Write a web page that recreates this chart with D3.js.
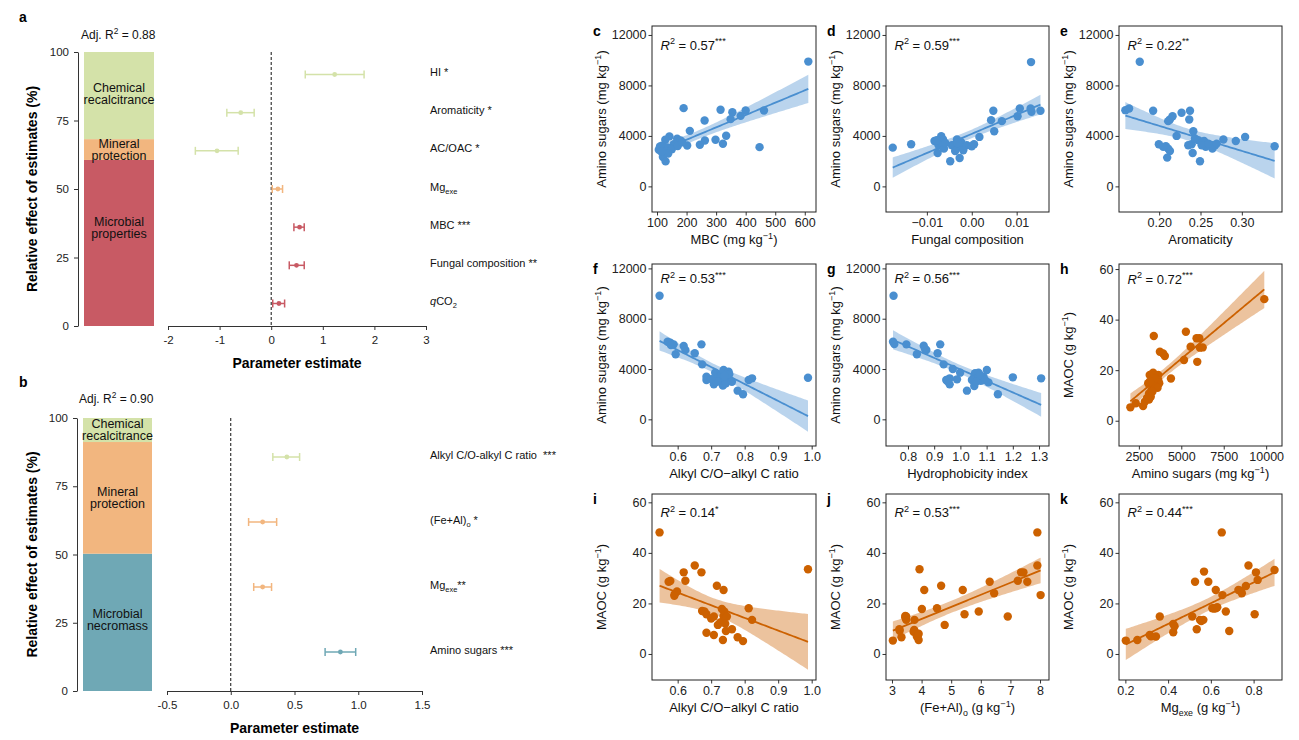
<!DOCTYPE html>
<meta charset="utf-8">
<style>
    body { margin: 0; background: #fff; }
    svg { display: block; font-family: "Liberation Sans", Arial, Helvetica, sans-serif; }
    .pre { white-space: pre; }
</style>
<body>
<svg width="1299" height="740"></svg>
<script src="https://d3js.org/d3.v7.min.js"></script>
<script>
// ---------- panel a : amino sugars model ----------
const aFactors = ["HI *", "Aromaticity *", "AC/OAC *", "Mg_{exe}", "MBC ***", "Fungal composition **", "~{q}CO_{2}"];
const aFactorGroup = [0, 0, 0, 1, 2, 2, 2];
const aEstimate = [1.23, -0.59, -1.05, 0.13, 0.55, 0.49, 0.15];
const aLower = [0.66, -0.86, -1.47, 0.02, 0.44, 0.35, 0.03];
const aUpper = [1.80, -0.33, -0.64, 0.22, 0.64, 0.64, 0.26];
const aGroups = ["Chemical recalcitrance", "Mineral protection", "Microbial properties"];
const aShare = [31.8, 7.6, 60.6];
const aTicks = [-2, -1, 0, 1, 2, 3];

// ---------- panel b : MAOC model ----------
const bFactors = ["Alkyl C/O-alkyl C ratio  ***", "(Fe+Al)_{o} *", "Mg_{exe}**", "Amino sugars ***"];
const bFactorGroup = [0, 1, 1, 2];
const bEstimate = [0.44, 0.25, 0.25, 0.86];
const bLower = [0.33, 0.14, 0.18, 0.74];
const bUpper = [0.54, 0.36, 0.32, 0.98];
const bGroups = ["Chemical recalcitrance", "Mineral protection", "Microbial necromass"];
const bShare = [8.8, 40.9, 50.3];
const bTicks = [-0.5, 0, 0.5, 1, 1.5];

// ---------- scatter panels c-k ([x, y]) ----------
const mbcAmino = [[612,9890],[190,6200],[315,6070],[355,5880],[400,6010],[462,6010],[349,5330],[383,5590],[261,5220],[211,4400],[142,3960],[168,3770],[180,3640],[128,3690],[334,4010],[298,3690],[262,3640],[245,3300],[323,3380],[202,3240],[157,3350],[143,3030],[117,3220],[106,2900],[125,2770],[134,3090],[120,2320],[129,1980],[447,3110],[110,3160],[150,2950],[170,3200],[185,3500],[138,2600],[115,2750]];
const fungalAmino = [[-0.0176,3070],[-0.0135,3340],[-0.0083,3600],[-0.0068,3970],[-0.0064,3710],[-0.0074,3260],[-0.0076,2650],[-0.0048,1990],[-0.0062,2990],[-0.0033,3710],[-0.0030,3130],[-0.0027,2250],[-0.0024,3520],[-0.0022,3050],[-0.0011,3260],[0.0000,3180],[0.0005,3340],[0.0017,3920],[0.0043,5250],[0.0048,5990],[0.0050,4370],[0.0067,5170],[0.0102,5560],[0.0107,6170],[0.0133,5910],[0.0131,6170],[0.0153,5990],[0.0132,9850],[-0.0070,3520],[-0.0059,3440],[-0.0044,3260],[-0.0037,2810],[-0.0032,3440],[-0.0019,2860],[-0.0078,3660]];
const aromAmino = [[0.1765,9880],[0.1591,6040],[0.1636,6170],[0.1927,5990],[0.2271,5830],[0.2373,5990],[0.2162,5560],[0.2130,5300],[0.2109,5170],[0.2364,5300],[0.2413,4370],[0.2211,4000],[0.1996,3340],[0.2081,3180],[0.2109,2990],[0.2130,2810],[0.2097,2280],[0.2393,3340],[0.2405,2650],[0.2494,1990],[0.2474,3660],[0.2543,3600],[0.2563,3130],[0.2644,2990],[0.2676,3260],[0.2777,3710],[0.2927,3600],[0.3040,3920],[0.3397,3180],[0.2433,3790],[0.2514,3260],[0.2595,3390],[0.2049,3130],[0.2352,3260],[0.2696,3390]];
const alkylAmino = [[0.546,9830],[0.570,6170],[0.578,6100],[0.588,5960],[0.594,5170],[0.618,5830],[0.623,5510],[0.651,5250],[0.671,5960],[0.673,4370],[0.686,3390],[0.686,3130],[0.708,2780],[0.712,3710],[0.720,3310],[0.727,3130],[0.727,3520],[0.732,3600],[0.737,3920],[0.735,2680],[0.742,3130],[0.744,2860],[0.747,3390],[0.752,3790],[0.754,3580],[0.762,2990],[0.717,2990],[0.779,2280],[0.795,1990],[0.812,3130],[0.822,3260],[0.989,3310],[0.580,5900],[0.700,3200],[0.740,3450]];
const hiAmino = [[0.745,9830],[0.743,6170],[0.748,5990],[0.794,5960],[0.860,5850],[0.834,5170],[0.870,5510],[0.913,5250],[0.923,5960],[0.936,4370],[0.971,4000],[0.999,3710],[0.946,3130],[0.959,3260],[0.959,2780],[0.987,3180],[1.025,2280],[1.053,3390],[1.053,2650],[1.056,3660],[1.069,3710],[1.078,3070],[1.088,3390],[1.101,3920],[1.107,2940],[1.143,1990],[1.200,3340],[1.308,3260],[1.063,3260],[1.044,3130],[1.075,3520],[1.094,3130],[0.865,5600],[1.060,3000],[0.950,3050]];
const aminoMaoc = [[2000,5.3],[2320,6.9],[2750,5.8],[2850,7.5],[3100,8.4],[3200,9.5],[3140,18.1],[3340,19.0],[3380,33.5],[3640,18.1],[3640,16.1],[3700,14.8],[3540,13.4],[3240,12.1],[3100,10.8],[3340,14.1],[3740,27.3],[4030,25.6],[3930,26.6],[4390,16.7],[5270,35.2],[5160,24.0],[5550,29.3],[5900,32.6],[6060,32.6],[5940,23.3],[6100,28.9],[6260,29.0],[9890,48.1],[3050,14.8],[3440,16.7],[2980,9.0],[3600,13.0],[3300,11.5],[3150,15.5]];
const alkylMaoc = [[0.546,48.1],[0.573,28.6],[0.578,28.9],[0.591,23.6],[0.598,24.7],[0.618,32.3],[0.623,29.0],[0.651,35.0],[0.671,32.3],[0.673,17.0],[0.686,15.7],[0.686,8.4],[0.708,7.5],[0.708,14.8],[0.717,27.0],[0.720,11.5],[0.732,17.8],[0.737,25.3],[0.735,5.5],[0.737,15.0],[0.737,13.5],[0.744,9.1],[0.762,9.8],[0.779,6.6],[0.795,5.1],[0.812,18.1],[0.822,13.5],[0.989,33.5],[0.680,16.8],[0.739,16.8],[0.747,14.8],[0.727,12.5],[0.700,14.0],[0.590,23.0],[0.742,12.0]];
const feAlMaoc = [[3.03,5.3],[3.25,9.8],[3.32,6.6],[3.45,14.4],[3.48,13.5],[3.76,13.5],[3.73,8.8],[3.82,8.2],[3.88,7.5],[3.90,5.5],[3.93,33.5],[4.01,17.8],[4.09,25.3],[4.52,18.1],[4.66,27.0],[4.78,11.5],[5.39,25.3],[5.45,15.7],[5.93,16.8],[6.30,28.6],[6.45,24.0],[6.91,14.8],[7.25,29.0],[7.36,32.3],[7.44,32.3],[7.57,28.6],[7.91,48.1],[7.91,35.0],[8.02,23.3],[3.48,14.8],[3.84,6.9],[3.26,9.2],[3.75,9.5],[3.45,15.0],[3.90,8.0]];
const mgMaoc = [[0.202,5.3],[0.256,5.5],[0.314,7.5],[0.343,6.9],[0.361,14.8],[0.424,11.9],[0.424,8.6],[0.513,14.8],[0.526,28.6],[0.534,9.8],[0.549,13.5],[0.565,13.5],[0.568,32.6],[0.588,28.6],[0.607,18.1],[0.623,18.1],[0.623,25.3],[0.651,48.1],[0.654,23.3],[0.670,16.8],[0.686,9.1],[0.729,25.3],[0.745,24.0],[0.764,26.9],[0.776,35.0],[0.811,32.3],[0.805,15.7],[0.819,29.3],[0.898,33.2],[0.615,18.0],[0.430,11.0],[0.555,13.0],[0.740,25.0],[0.320,7.0],[0.630,18.5]];

const r2Labels = ["0.57^{***}", "0.59^{***}", "0.22^{**}", "0.53^{***}", "0.56^{***}", "0.72^{***}", "0.14^{*}", "0.53^{***}", "0.44^{***}"];

const groupColors = ["#d4e2a9", "#f2b67f", "#c85a64"];
const groupColorsB = ["#d4e2a9", "#f2b67f", "#6fa8b5"];
const blue = "#4a8fd0", orange = "#cc6100";

const svg = d3.select("svg");

// text with _{sub}, ^{sup} and ~{italic} pieces
function rich(sel, str, fs) {
    let off = 0;
    str.split(/([_^~]\{[^}]*\})/).filter(s => s).forEach(p => {
        const m = p.match(/^([_^~])\{(.*)\}$/);
        const kind = m ? m[1] : "";
        const ts = sel.append("tspan").text(m ? m[2] : p);
        let target = 0;
        if (kind === "_") { target = fs * 0.3; ts.attr("font-size", fs * 0.68); }
        if (kind === "^") { target = -fs * 0.4; ts.attr("font-size", fs * 0.7); }
        if (kind === "~") ts.attr("font-style", "italic");
        if (target !== off) { ts.attr("dy", target - off); off = target; }
    });
    return sel;
}

function styleAxis(sel, fs) {
    sel.attr("font-family", null).attr("font-size", fs);
    sel.selectAll("path.domain, line").attr("stroke", "#333");
    sel.selectAll("text").attr("fill", "#222");
}

const hyphen = f => d => f(d).replace("\u2212", "-");

function drawForest(c) {
    const g = svg.append("g");
    const pct = d3.scaleLinear().domain([0, 100]).range(c.pctRange);
    g.append("g").attr("transform", `translate(${c.axisX},0)`)
        .call(d3.axisLeft(pct).tickValues([0, 25, 50, 75, 100]).tickSize(4).tickPadding(5).tickSizeOuter(0))
        .call(styleAxis, 11.5);

    // stacked relative effects, first group on top
    let acc = 0;
    const segs = c.groups.map((name, i) => ({ name, i, share: c.shares[i] })).reverse()
        .map(s => { const d = { ...s, y0: acc, y1: acc + s.share }; acc += s.share; return d; });
    g.selectAll("rect.seg").data(segs).join("rect")
        .attr("x", c.bar[0]).attr("width", c.bar[1] - c.bar[0])
        .attr("y", d => pct(d.y1)).attr("height", d => pct(d.y0) - pct(d.y1))
        .attr("fill", d => c.colors[d.i]);
    segs.forEach(d => {
        const t = g.append("text").attr("text-anchor", "middle").attr("font-size", 12.5).attr("fill", "#111");
        const cy = pct(c.labelPct[d.i]);
        d.name.split(" ").forEach((w, k) => t.append("tspan").attr("x", (c.bar[0] + c.bar[1]) / 2)
            .attr("y", cy + 4 + (k - 0.5) * 12).text(w));
    });

    const x = d3.scaleLinear().domain(c.xDomain).range(c.xRange);
    g.append("g").attr("transform", `translate(0,${c.pctRange[0]})`)
        .call(d3.axisBottom(x).tickValues(c.xTicks).tickFormat(c.xFormat).tickSize(4).tickPadding(6).tickSizeOuter(0))
        .call(styleAxis, 11.5);
    g.append("line").attr("x1", x(0)).attr("x2", x(0)).attr("y1", c.pctRange[1]).attr("y2", c.pctRange[0])
        .attr("stroke", "#111").attr("stroke-dasharray", "3,2");

    const row = d3.scalePoint().domain(c.factors).range([c.pctRange[1], c.pctRange[0]]).padding(c.rowPad);
    c.factors.forEach((f, i) => {
        const y = row(f), col = c.colors[c.factorGroup[i]];
        const e = g.append("g").attr("stroke", col).attr("stroke-width", 1.5);
        e.append("line").attr("x1", x(c.lower[i])).attr("x2", x(c.upper[i])).attr("y1", y).attr("y2", y);
        [c.lower[i], c.upper[i]].forEach(v => e.append("line").attr("x1", x(v)).attr("x2", x(v)).attr("y1", y - 4).attr("y2", y + 4));
        g.append("circle").attr("cx", x(c.estimate[i])).attr("cy", y).attr("r", 2.4).attr("fill", col);
        rich(g.append("text").attr("class", "pre").attr("x", c.labelX).attr("y", y + 1.5).attr("font-size", 11).attr("fill", "#111"), f, 11);
    });

    g.append("text").attr("x", c.letterPos[0]).attr("y", c.letterPos[1]).attr("font-size", 14).attr("font-weight", "bold").text(c.letter);
    rich(g.append("text").attr("x", c.adjPos[0]).attr("y", c.adjPos[1]).attr("font-size", 12).attr("fill", "#111"), c.adj, 12);
    g.append("text").attr("transform", `translate(${c.yTitleX},${d3.mean(c.pctRange)}) rotate(-90)`)
        .attr("text-anchor", "middle").attr("font-size", 14).attr("font-weight", "bold").text("Relative effect of estimates (%)");
    g.append("text").attr("x", d3.mean(c.xRange)).attr("y", c.pctRange[0] + 42)
        .attr("text-anchor", "middle").attr("font-size", 14).attr("font-weight", "bold").text("Parameter estimate");
}

drawForest({
    letter: "a", letterPos: [19, 22], adj: "Adj. R^{2} = 0.88", adjPos: [81, 39],
    pctRange: [326, 52], axisX: 78, bar: [84, 154], yTitleX: 37,
    groups: aGroups, shares: aShare, colors: groupColors, labelPct: [84.7, 64.1, 35.6],
    xDomain: [-2, 3], xRange: [168, 426], xTicks: aTicks, xFormat: hyphen(d3.format("d")),
    factors: aFactors, factorGroup: aFactorGroup, estimate: aEstimate, lower: aLower, upper: aUpper,
    rowPad: 0.59, labelX: 430
});
drawForest({
    letter: "b", letterPos: [19, 387], adj: "Adj. R^{2} = 0.90", adjPos: [79, 403],
    pctRange: [691, 418], axisX: 77, bar: [83, 152], yTitleX: 37,
    groups: bGroups, shares: bShare, colors: groupColorsB, labelPct: [95.6, 70.7, 26],
    xDomain: [-0.5, 1.5], xRange: [167, 422], xTicks: bTicks, xFormat: hyphen(d3.format(".1f")),
    factors: bFactors, factorGroup: bFactorGroup, estimate: bEstimate, lower: bLower, upper: bUpper,
    rowPad: 0.6, labelX: 430
});

// linear fit with 95% confidence band (as geom_smooth(method = "lm"))
function fit(pts) {
    const n = pts.length;
    const mx = d3.mean(pts, d => d[0]), my = d3.mean(pts, d => d[1]);
    const sxx = d3.sum(pts, d => (d[0] - mx) ** 2);
    const b = d3.sum(pts, d => (d[0] - mx) * (d[1] - my)) / sxx, a = my - b * mx;
    const s = Math.sqrt(d3.sum(pts, d => (d[1] - a - b * d[0]) ** 2) / (n - 2));
    const t = 2.03;
    const [x0, x1] = d3.extent(pts, d => d[0]);
    return d3.range(81).map(i => {
        const x = x0 + (x1 - x0) * i / 80, yh = a + b * x;
        const se = s * Math.sqrt(1 / n + (x - mx) ** 2 / sxx);
        return { x, y: yh, lo: yh - t * se, hi: yh + t * se };
    });
}

const rows = [{ top: 26, bottom: 212 }, { top: 264, bottom: 446 }, { top: 494, bottom: 680 }];
const cols = [{ left: 652, right: 816 }, { left: 886, right: 1049 }, { left: 1119, right: 1282 }];
const amino = "Amino sugars (mg kg^{\u22121})", maoc = "MAOC (g kg^{\u22121})";

const panels = [
    { letter: "c", data: mbcAmino, color: blue, xd: [83, 638], yd: [-2030, 12710], xt: [100, 200, 300, 400, 500, 600], xf: d3.format("d"), yt: [0, 4000, 8000, 12000], xl: "MBC (mg kg^{\u22121})", yl: amino, ann: 11200 },
    { letter: "d", data: fungalAmino, color: blue, xd: [-0.0191, 0.0172], yd: [-2030, 12710], xt: [-0.01, 0, 0.01], xf: d3.format(".2f"), yt: [0, 4000, 8000, 12000], xl: "Fungal composition", yl: amino, ann: 11200 },
    { letter: "e", data: aromAmino, color: blue, xd: [0.1514, 0.3486], yd: [-2030, 12710], xt: [0.2, 0.25, 0.3], xf: d3.format(".2f"), yt: [0, 4000, 8000, 12000], xl: "Aromaticity", yl: amino, ann: 11200 },
    { letter: "f", data: alkylAmino, color: blue, xd: [0.5234, 1.0129], yd: [-2120, 12350], xt: [0.6, 0.7, 0.8, 0.9, 1.0], xf: d3.format(".1f"), yt: [0, 4000, 8000, 12000], xl: "Alkyl C/O\u2212alkyl C ratio", yl: amino, ann: 11200 },
    { letter: "g", data: hiAmino, color: blue, xd: [0.7162, 1.338], yd: [-2120, 12350], xt: [0.8, 0.9, 1.0, 1.1, 1.2, 1.3], xf: d3.format(".1f"), yt: [0, 4000, 8000, 12000], xl: "Hydrophobicity index", yl: amino, ann: 11200 },
    { letter: "h", data: aminoMaoc, color: orange, xd: [1330, 10933], yd: [-10, 62], xt: [2500, 5000, 7500, 10000], xf: d3.format("d"), yt: [0, 20, 40, 60], xl: "Amino sugars (mg kg^{\u22121})", yl: maoc, ann: 56 },
    { letter: "i", data: alkylMaoc, color: orange, xd: [0.5234, 1.0129], yd: [-10.3, 63.3], xt: [0.6, 0.7, 0.8, 0.9, 1.0], xf: d3.format(".1f"), yt: [0, 20, 40, 60], xl: "Alkyl C/O\u2212alkyl C ratio", yl: maoc, ann: 56 },
    { letter: "j", data: feAlMaoc, color: orange, xd: [2.798, 8.303], yd: [-10.3, 63.3], xt: [3, 4, 5, 6, 7, 8], xf: d3.format("d"), yt: [0, 20, 40, 60], xl: "(Fe+Al)_{o} (g kg^{\u22121})", yl: maoc, ann: 56 },
    { letter: "k", data: mgMaoc, color: orange, xd: [0.1702, 0.9329], yd: [-10.3, 63.3], xt: [0.2, 0.4, 0.6, 0.8], xf: d3.format(".1f"), yt: [0, 20, 40, 60], xl: "Mg_{exe} (g kg^{\u22121})", yl: maoc, ann: 56 }
];

panels.forEach((p, i) => {
    const { top, bottom } = rows[Math.floor(i / 3)], { left, right } = cols[i % 3];
    const g = svg.append("g");
    const x = d3.scaleLinear().domain(p.xd).range([left, right]);
    const y = d3.scaleLinear().domain(p.yd).range([bottom, top]);
    const clip = "clip-" + p.letter;
    svg.append("clipPath").attr("id", clip).append("rect")
        .attr("x", left).attr("y", top).attr("width", right - left).attr("height", bottom - top);

    const band = fit(p.data);
    const inner = g.append("g").attr("clip-path", `url(#${clip})`);
    inner.append("path").datum(band)
        .attr("d", d3.area().x(d => x(d.x)).y0(d => y(d.lo)).y1(d => y(d.hi)))
        .attr("fill", p.color).attr("fill-opacity", 0.38);
    inner.append("path").datum(band)
        .attr("d", d3.line().x(d => x(d.x)).y(d => y(d.y)))
        .attr("fill", "none").attr("stroke", p.color).attr("stroke-width", 1.8);
    inner.selectAll("circle").data(p.data).join("circle")
        .attr("cx", d => x(d[0])).attr("cy", d => y(d[1])).attr("r", 4.2).attr("fill", p.color);

    g.append("g").attr("transform", `translate(0,${bottom})`)
        .call(d3.axisBottom(x).tickValues(p.xt).tickFormat(p.xf).tickSize(3.5).tickPadding(3))
        .call(styleAxis, 12.5).call(a => a.select(".domain").remove());
    g.append("g").attr("transform", `translate(${left},0)`)
        .call(d3.axisLeft(y).tickValues(p.yt).tickFormat(d3.format("d")).tickSize(3.5).tickPadding(2))
        .call(styleAxis, 12.5).call(a => a.select(".domain").remove());
    g.append("rect").attr("x", left).attr("y", top).attr("width", right - left).attr("height", bottom - top)
        .attr("fill", "none").attr("stroke", "#222").attr("stroke-width", 1);

    rich(g.append("text").attr("x", left + 8.5).attr("y", y(p.ann) + 4.5).attr("font-size", 13).attr("fill", "#111"),
        "~{R}^{2} = " + r2Labels[i], 13);
    g.append("text").attr("x", left - 59).attr("y", top + 10).attr("font-size", 14).attr("font-weight", "bold").text(p.letter);
    rich(g.append("text").attr("x", (left + right) / 2).attr("y", bottom + 32).attr("text-anchor", "middle")
        .attr("font-size", 13).attr("fill", "#111"), p.xl, 13);
    rich(g.append("text").attr("transform", `translate(${left - 46},${(top + bottom) / 2}) rotate(-90)`)
        .attr("text-anchor", "middle").attr("font-size", 13).attr("fill", "#111"), p.yl, 13);
});
</script>
</body>
